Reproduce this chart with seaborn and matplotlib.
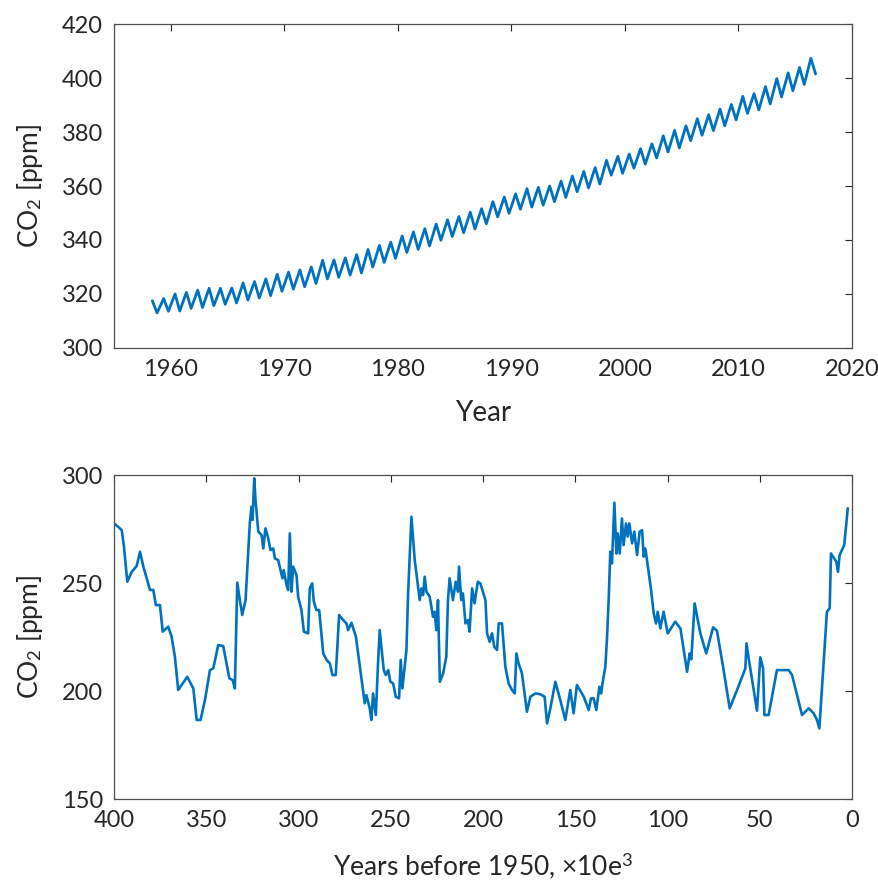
import matplotlib
matplotlib.use("Agg")
import matplotlib.pyplot as plt
import numpy as np
import pandas as pd
import seaborn as sns

# ---------------- data ----------------
# Mauna Loa: yearly seasonal maximum (about May) and minimum (about Sep/Oct), ppm
ml_years = list(range(1958, 2017))
ml_peak = [317.5, 318.3, 320.0, 320.6, 321.4, 322.1, 322.1, 322.2, 324.1, 324.6,
           325.6, 327.3, 328.1, 328.9, 330.0, 332.5, 332.6, 333.4, 334.6, 336.5,
           338.0, 339.2, 341.5, 343.0, 344.2, 345.9, 347.5, 348.7, 350.3, 351.6,
           354.2, 355.9, 357.1, 359.0, 359.5, 360.0, 361.8, 363.7, 365.4, 366.8,
           369.5, 371.0, 371.8, 373.8, 375.6, 378.6, 380.6, 382.3, 384.9, 386.4,
           388.5, 390.2, 393.2, 394.2, 396.8, 399.8, 401.9, 403.9, 407.3]
ml_trough = [313.0, 313.6, 313.7, 314.7, 315.0, 315.7, 316.2, 316.7, 317.8, 318.5,
             319.4, 321.0, 321.8, 322.7, 323.9, 325.6, 326.2, 327.0, 327.8, 330.0,
             331.7, 333.2, 335.4, 336.5, 337.8, 339.9, 341.3, 342.7, 344.1, 346.0,
             348.6, 349.9, 351.4, 352.2, 352.9, 354.2, 355.8, 357.9, 359.3, 360.7,
             364.0, 364.7, 366.6, 368.1, 370.4, 372.6, 374.1, 376.8, 378.8, 380.5,
             382.3, 384.5, 386.9, 388.2, 390.4, 393.0, 395.3, 397.6, 401.5]
peak_month = 5
trough_month = 10

# Vostok ice core: age (kyr before 1950) and CO2 (ppm)
vostok_age = [400.0, 397.7, 395.8, 394.6, 392.8, 390.4, 387.7, 385.9, 384.1, 380.5,
              378.7, 377.3, 375.1, 373.6, 370.6, 368.8, 367.0, 365.2, 360.3, 357.0,
              355.2, 353.1, 350.7, 348.0, 346.2, 343.5, 340.8, 337.5, 335.7, 334.5,
              333.2, 331.8, 330.5, 328.7, 326.4, 325.5, 324.9, 324.0, 323.3, 321.8,
              320.0, 319.1, 317.9, 316.4, 315.2, 313.7, 312.8, 311.0, 308.7, 308.0,
              306.5, 305.6, 304.7, 303.8, 302.9, 301.1, 300.2, 298.4, 297.1, 294.8,
              293.9, 292.6, 291.7, 290.3, 288.8, 286.6, 284.8, 283.0, 281.6, 279.8,
              278.0, 275.8, 274.0, 273.1, 271.3, 268.9, 265.9, 264.1, 263.2, 261.4,
              260.5, 259.6, 258.1, 256.9, 256.0, 253.8, 252.7, 251.4, 250.2, 248.7,
              247.3, 245.5, 244.6, 243.7, 241.5, 240.6, 238.8, 237.0, 234.3, 233.4,
              232.5, 231.6, 230.7, 228.9, 227.1, 226.2, 225.3, 224.4, 223.4, 221.6,
              219.9, 219.0, 218.1, 216.3, 214.8, 213.6, 213.0, 211.8, 210.9, 209.5,
              208.2, 207.3, 205.9, 204.6, 202.8, 201.4, 198.7, 197.8, 196.4, 195.1,
              193.9, 192.4, 191.5, 189.7, 187.9, 186.1, 184.3, 182.8, 181.9, 180.7,
              178.9, 176.2, 174.3, 171.6, 169.3, 166.6, 165.3, 163.5, 160.8, 158.1,
              155.4, 152.7, 150.9, 149.1, 145.4, 142.7, 141.5, 140.0, 138.6, 136.9,
              136.0, 135.1, 133.7, 132.8, 131.9, 131.0, 130.1, 128.8, 127.7, 127.0,
              125.9, 124.7, 123.8, 122.5, 121.6, 120.7, 119.2, 118.0, 116.5, 115.1,
              113.8, 112.9, 112.0, 108.9, 107.5, 106.2, 105.3, 103.9, 102.1, 99.9,
              95.8, 93.0, 89.4, 88.0, 87.1, 85.3, 82.2, 79.0, 75.3, 73.2,
              69.9, 66.3, 62.3, 57.8, 57.2, 56.0, 51.5, 49.7, 48.2, 47.5,
              45.2, 40.7, 34.3, 32.5, 27.1, 23.5, 20.8, 19.0, 17.7, 13.6,
              12.1, 11.4, 8.5, 7.6, 6.7, 4.2, 2.3]
vostok_co2 = [277.6, 276.0, 274.5, 266.8, 250.6, 255.2, 257.9, 264.5, 257.6, 246.8,
              246.8, 239.8, 239.8, 227.5, 229.8, 225.2, 215.9, 200.5, 206.6, 201.2,
              186.6, 186.6, 195.8, 209.7, 210.5, 221.3, 220.8, 205.9, 205.1, 201.2,
              250.2, 242.1, 235.2, 242.1, 277.6, 285.3, 279.2, 298.5, 288.4, 273.8,
              272.2, 266.0, 275.3, 270.7, 265.3, 266.0, 261.4, 260.6, 252.2, 256.0,
              249.1, 246.8, 273.0, 246.0, 257.6, 253.7, 243.7, 237.5, 227.5, 226.7,
              247.5, 249.8, 241.4, 237.5, 237.5, 217.4, 214.4, 212.8, 207.4, 207.4,
              235.2, 232.9, 231.3, 228.2, 231.6, 225.2, 205.9, 194.3, 198.1, 192.0,
              186.6, 198.9, 188.9, 212.8, 228.2, 209.7, 207.4, 209.7, 204.3, 203.5,
              197.4, 196.6, 214.4, 201.2, 219.0, 245.2, 280.7, 260.6, 242.1, 247.5,
              244.4, 252.9, 246.0, 243.7, 234.4, 236.7, 228.2, 242.1, 204.3, 208.2,
              215.9, 242.1, 252.2, 242.1, 250.6, 246.0, 257.6, 242.1, 245.2, 231.3,
              232.9, 227.5, 247.5, 240.6, 250.6, 249.8, 242.1, 226.7, 222.8, 226.7,
              220.5, 219.0, 231.3, 231.3, 211.3, 203.5, 200.5, 198.9, 217.4, 212.8,
              208.2, 190.4, 197.4, 198.9, 198.6, 197.4, 185.0, 192.0, 204.3, 195.8,
              186.6, 200.5, 189.7, 202.8, 197.4, 191.2, 196.6, 196.6, 191.2, 202.0,
              198.9, 204.3, 211.3, 224.4, 242.1, 264.5, 259.1, 287.2, 263.7, 273.0,
              263.7, 279.9, 267.6, 277.6, 271.5, 277.6, 268.4, 273.8, 263.0, 273.8,
              274.5, 262.2, 266.0, 246.8, 236.0, 231.3, 236.7, 229.0, 236.7, 226.7,
              232.1, 229.0, 208.9, 217.4, 214.7, 240.6, 226.7, 217.4, 229.5, 227.9,
              211.3, 192.0, 200.5, 210.5, 222.1, 215.1, 190.9, 215.6, 210.5, 188.9,
              188.9, 209.7, 209.7, 207.4, 188.9, 192.0, 189.7, 186.6, 182.7, 236.7,
              238.3, 263.7, 259.9, 255.2, 263.0, 267.6, 284.6]

# ---------------- tables ----------------
rows = []
for y, p, t in zip(ml_years, ml_peak, ml_trough):
    rows.append((y + (peak_month - 0.5) / 12, p))
    rows.append((y + (trough_month - 0.5) / 12, t))
ml_df = pd.DataFrame(rows, columns=["year", "co2"])
vo_df = pd.DataFrame({"age": vostok_age, "co2": vostok_co2})

# ---------------- style ----------------
sns.set_style("white")
plt.rcParams["font.family"] = ["Lato", "DejaVu Sans"]
plt.rcParams["mathtext.fontset"] = "custom"
plt.rcParams["mathtext.rm"] = "Lato"
plt.rcParams["mathtext.it"] = "Lato:italic"
plt.rcParams["mathtext.bf"] = "Lato:bold"

text_c = "#262626"
line_c = "#0072BD"

fig = plt.figure(figsize=(8.79, 8.83), dpi=100)
ax1 = fig.add_axes([0.1297, 0.6059, 0.8396, 0.3669])
ax2 = fig.add_axes([0.1297, 0.0951, 0.8396, 0.3669])

sns.lineplot(data=ml_df, x="year", y="co2", ax=ax1, color=line_c, linewidth=2.0)
sns.lineplot(data=vo_df, x="age", y="co2", ax=ax2, color=line_c, linewidth=1.9)

ax1.set_xlim(1955, 2020)
ax1.set_ylim(300, 420)
ax1.set_xticks(np.arange(1960, 2021, 10))
ax1.set_yticks(np.arange(300, 421, 20))
ax1.set_xlabel("Year", fontsize=20, color=text_c, labelpad=14)
ax1.set_ylabel("CO$_2$ [ppm]", fontsize=19, color=text_c, labelpad=12)

ax2.set_xlim(400, 0)
ax2.set_ylim(150, 300)
ax2.set_xticks(np.arange(400, -1, -50))
ax2.set_yticks(np.arange(150, 301, 50))
ax2.set_xlabel("Years before 1950, ×10e$^3$", fontsize=19, color=text_c, labelpad=14)
ax2.set_ylabel("CO$_2$ [ppm]", fontsize=19, color=text_c, labelpad=12)

for ax in (ax1, ax2):
    ax.tick_params(direction="in", top=True, right=True, length=5, width=0.8,
                   labelsize=17, colors=text_c, pad=8)
    for s in ax.spines.values():
        s.set_color("#4d4d4d")
        s.set_linewidth(0.9)
    ax.grid(False)

fig.savefig("out.png", dpi=100)
